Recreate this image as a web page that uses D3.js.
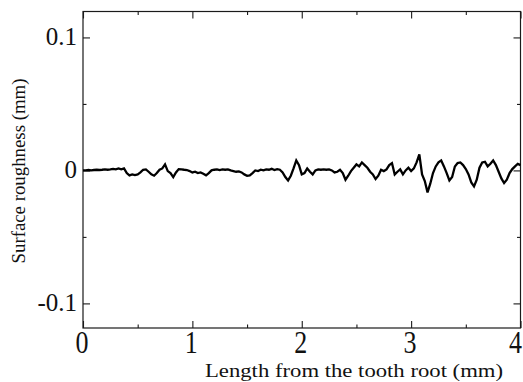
<!DOCTYPE html>
<html>
<head>
<meta charset="utf-8">
<script src="https://cdn.jsdelivr.net/npm/d3@7"></script>
<style>
  html, body { margin: 0; padding: 0; background: #fff; }
  svg { display: block; }
  text { font-family: "Liberation Serif", "DejaVu Serif", serif; fill: #111; }
</style>
</head>
<body>
<svg id="chart" width="523" height="382"></svg>
<script>
// ---- data ----
const xTicks = [0, 1, 2, 3, 4];
const xMinorTicks = [0.5, 1.5, 2.5, 3.5];
const yTicks = [-0.1, 0, 0.1];
const yTickLabels = ["-0.1", "0", "0.1"];
const yMinorTicks = [-0.05, 0.05];
const xTitle = "Length from the tooth root (mm)";
const yTitle = "Surface roughness (mm)";
const sampleStart = 0;      // mm
const sampleStep = 0.025;   // mm between profile samples
// surface roughness profile (mm), one value per sample
const roughness = [
  0, 0, 0.0003, 0, 0.0003, 0.0005, 0.0003, 0.0005, 0.0008, 0.0005,
  0.0008, 0.0012, 0.0008, 0.0015, 0.0008, 0.0015, -0.002, -0.0037, -0.003, -0.0035,
  -0.003, -0.0015, 0.0005, 0.0008, -0.001, -0.003, -0.004, -0.002, 0.0005, 0.0015,
  0.0045, -0.0005, -0.002, -0.005, -0.0015, 0.001, 0.0008, 0.0005, 0.0003, -0.0005,
  -0.0015, -0.001, -0.002, -0.0015, -0.0025, -0.0037, -0.002, 0, 0.0005, 0.0008,
  0.0003, 0.0008, 0.0005, 0.0008, 0, -0.0005, -0.001, -0.0008, -0.0015, -0.003,
  -0.004, -0.0037, -0.002, 0, -0.0005, 0.0005, 0, 0.0008, 0.0005, 0.0012,
  0.0003, 0.001, 0.0005, -0.0015, -0.005, -0.0075, -0.004, 0.0015, 0.0075, 0.004,
  -0.003, -0.002, 0.0015, -0.001, -0.003, 0, 0.0008, 0.0005, 0.0008, 0.0005,
  0.0008, 0, -0.0015, -0.001, 0.0005, -0.002, -0.007, -0.004, -0.0005, 0.002,
  0.0045, 0.003, 0.006, 0.004, 0.002, -0.001, -0.003, -0.0065, -0.004, 0.0005,
  -0.0005, 0.0008, 0.004, 0.0055, -0.003, -0.001, 0.0008, -0.003, 0, 0.002,
  -0.0005, 0.0015, 0.006, 0.012, -0.003, -0.008, -0.0165, -0.01, -0.002, 0.003,
  0.006, 0.0075, 0.003, -0.002, -0.0075, -0.005, 0.003, 0.0055, 0.006, 0.004,
  0.001, -0.003, -0.009, -0.012, -0.007, 0.002, 0.006, 0.0065, 0.003, 0.005,
  0.0075, 0.004, -0.001, -0.006, -0.0095, -0.007, -0.002, 0.001, 0.003, 0.005,
  0.004
];

// ---- layout ----
const svg = d3.select("#chart");
const plotLeft = 83, plotRight = 520.5, plotTop = 11.5, plotBottom = 328;
const x = d3.scaleLinear().domain([0, 4]).range([plotLeft, plotRight]);
const y = d3.scaleLinear().domain([-0.1185, 0.1195]).range([plotBottom, plotTop]);

const ink = "#1a1a1a";

// frame
svg.append("rect")
  .attr("x", plotLeft).attr("y", plotTop)
  .attr("width", plotRight - plotLeft).attr("height", plotBottom - plotTop)
  .attr("fill", "none").attr("stroke", ink).attr("stroke-width", 1.2);

// axes (ticks drawn inward)
const majorLen = 7, minorLen = 3.5;
function addAxis(ax, tr) {
  const g = svg.append("g").attr("transform", tr).call(ax);
  g.select(".domain").remove();
  g.selectAll(".tick line").attr("stroke", ink).attr("stroke-width", 1.1);
  return g;
}
addAxis(d3.axisTop(x).tickValues(xTicks).tickSize(majorLen).tickFormat(""), `translate(0,${plotBottom})`);
addAxis(d3.axisTop(x).tickValues(xMinorTicks).tickSize(minorLen).tickFormat(""), `translate(0,${plotBottom})`);
addAxis(d3.axisBottom(x).tickValues(xTicks).tickSize(majorLen).tickFormat(""), `translate(0,${plotTop})`);
addAxis(d3.axisBottom(x).tickValues(xMinorTicks).tickSize(minorLen).tickFormat(""), `translate(0,${plotTop})`);
addAxis(d3.axisRight(y).tickValues(yTicks).tickSize(majorLen).tickFormat(""), `translate(${plotLeft},0)`);
addAxis(d3.axisRight(y).tickValues(yMinorTicks).tickSize(minorLen).tickFormat(""), `translate(${plotLeft},0)`);
addAxis(d3.axisLeft(y).tickValues(yTicks).tickSize(majorLen).tickFormat(""), `translate(${plotRight},0)`);
addAxis(d3.axisLeft(y).tickValues(yMinorTicks).tickSize(minorLen).tickFormat(""), `translate(${plotRight},0)`);

// y tick labels
svg.append("g").selectAll("text")
  .data(yTicks)
  .join("text")
  .attr("x", 77)
  .attr("y", d => y(d) + 8)
  .attr("text-anchor", "end")
  .attr("font-size", 25)
  .text((d, i) => yTickLabels[i]);

// x tick labels (last one kept inside the page edge)
const lastTick = xTicks[xTicks.length - 1];
svg.append("g").selectAll("text")
  .data(xTicks)
  .join("text")
  .attr("transform", d => d === lastTick
      ? `translate(522,353) scale(1,1.25)`
      : `translate(${x(d) - 1},353) scale(1,1.25)`)
  .attr("text-anchor", d => d === lastTick ? "end" : "middle")
  .attr("font-size", 26)
  .text(d => d);

// axis titles
svg.append("text")
  .attr("x", 354).attr("y", 377)
  .attr("text-anchor", "middle")
  .attr("font-size", 18)
  .attr("textLength", 298)
  .attr("lengthAdjust", "spacingAndGlyphs")
  .text(xTitle);

svg.append("text")
  .attr("transform", "translate(25,171) rotate(-90)")
  .attr("text-anchor", "middle")
  .attr("font-size", 18)
  .attr("textLength", 185)
  .attr("lengthAdjust", "spacingAndGlyphs")
  .text(yTitle);

// profile line
const line = d3.line()
  .x((d, i) => x(sampleStart + i * sampleStep))
  .y(d => y(d));

svg.append("path")
  .datum(roughness)
  .attr("d", line)
  .attr("fill", "none")
  .attr("stroke", "#000")
  .attr("stroke-width", 2.3)
  .attr("stroke-linejoin", "miter")
  .attr("stroke-miterlimit", 3);
</script>
</body>
</html>
